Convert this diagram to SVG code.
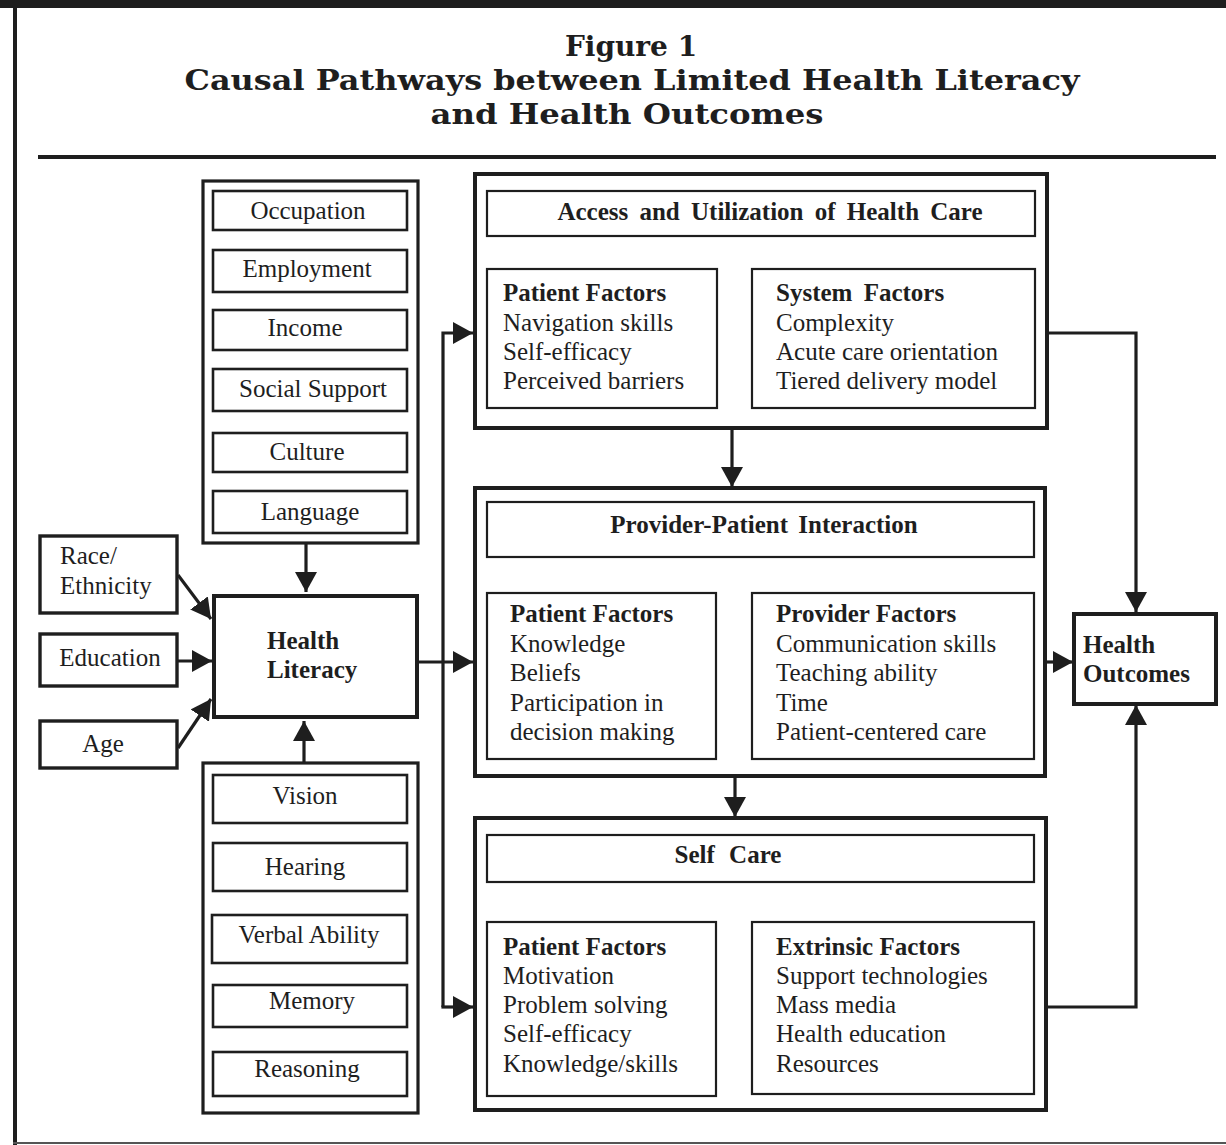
<svg xmlns="http://www.w3.org/2000/svg" width="1226" height="1145" viewBox="0 0 1226 1145">
<defs>
<marker id="ah" markerUnits="userSpaceOnUse" markerWidth="22" markerHeight="24" refX="20" refY="11" orient="auto">
<path d="M0,0 L20,11 L0,22 z" fill="#1e1e1e"/>
</marker>
<style>
.ob{fill:#fff;stroke:#1e1e1e;stroke-width:4}
.ib{fill:#fff;stroke:#1e1e1e;stroke-width:2.6}
.tb{fill:#fff;stroke:#1e1e1e;stroke-width:2.2}
.c{fill:none;stroke:#1e1e1e;stroke-width:3.2}
.t{font-family:"Liberation Serif","Times New Roman",serif;font-size:25px;fill:#1e1e1e}
.m{text-anchor:middle}
.b{font-weight:bold}
.h{font-family:"DejaVu Serif","Liberation Serif",serif;font-weight:bold;font-size:28px;fill:#1e1e1e;text-anchor:middle}
</style>
</defs>
<rect width="1226" height="1145" fill="#fff"/>
<g id="frame">
<rect x="0" y="0" width="1226" height="8" fill="#1e1e1e"/>
<rect x="13" y="0" width="4" height="1145" fill="#1e1e1e"/>
<line x1="13" y1="1143" x2="1226" y2="1143" stroke="#555" stroke-width="2"/>
<line x1="38" y1="157" x2="1216" y2="157" stroke="#1e1e1e" stroke-width="4"/>
</g>
<g id="title">
<text class="h" x="631" y="56">Figure 1</text>
<text class="h" x="632" y="90" textLength="895" lengthAdjust="spacingAndGlyphs">Causal Pathways between Limited Health Literacy</text>
<text class="h" x="627" y="124" textLength="393" lengthAdjust="spacingAndGlyphs">and Health Outcomes</text>
</g>
<g id="connectors">
<line class="c" x1="306" y1="543" x2="306" y2="592" marker-end="url(#ah)"/>
<line class="c" x1="304" y1="763" x2="304" y2="721" marker-end="url(#ah)"/>
<line class="c" x1="178" y1="575" x2="211" y2="619" marker-end="url(#ah)"/>
<line class="c" x1="177" y1="661" x2="212" y2="661" marker-end="url(#ah)"/>
<line class="c" x1="178" y1="748" x2="211" y2="699" marker-end="url(#ah)"/>
<line class="c" x1="418" y1="662" x2="473" y2="662" marker-end="url(#ah)"/>
<polyline class="c" points="443,1007 443,333 473,333" marker-end="url(#ah)"/>
<line class="c" x1="441.4" y1="1007" x2="473" y2="1007" marker-end="url(#ah)"/>
<line class="c" x1="732" y1="428" x2="732" y2="487" marker-end="url(#ah)"/>
<line class="c" x1="735" y1="776" x2="735" y2="817" marker-end="url(#ah)"/>
<line class="c" x1="1045" y1="662" x2="1073" y2="662" marker-end="url(#ah)"/>
<polyline class="c" points="1047,333 1136,333 1136,612" marker-end="url(#ah)"/>
<polyline class="c" points="1046,1007 1136,1007 1136,705" marker-end="url(#ah)"/>
</g>
<g id="social-factors">
<rect class="ob" x="203" y="181" width="215" height="362" style="stroke-width:3.2"/>
<g id="occupation"><rect class="ib" x="213" y="191" width="194" height="39"/><text class="t m" x="308" y="219">Occupation</text></g>
<g id="employment"><rect class="ib" x="213" y="250" width="194" height="42"/><text class="t m" x="307" y="277">Employment</text></g>
<g id="income"><rect class="ib" x="213" y="310" width="194" height="40"/><text class="t m" x="305" y="336">Income</text></g>
<g id="social-support"><rect class="ib" x="213" y="369" width="194" height="42"/><text class="t m" x="313" y="397">Social Support</text></g>
<g id="culture"><rect class="ib" x="213" y="433" width="194" height="39"/><text class="t m" x="307" y="460">Culture</text></g>
<g id="language"><rect class="ib" x="213" y="491" width="194" height="42"/><text class="t m" x="310" y="520">Language</text></g>
</g>
<g id="race-ethnicity"><rect class="ob" x="40" y="536" width="137" height="77" style="stroke-width:3.4"/><text class="t" x="60" y="564">Race/</text><text class="t" x="60" y="594">Ethnicity</text></g>
<g id="education"><rect class="ob" x="40" y="634" width="137" height="52" style="stroke-width:3.4"/><text class="t m" x="110" y="666">Education</text></g>
<g id="age"><rect class="ob" x="40" y="721" width="137" height="47" style="stroke-width:3.4"/><text class="t m" x="103" y="752">Age</text></g>
<g id="health-literacy"><rect class="ob" x="214" y="596" width="203" height="121"/><text class="t b" x="267" y="649">Health</text><text class="t b" x="267" y="678">Literacy</text></g>
<g id="individual-factors">
<rect class="ob" x="203" y="763" width="215" height="350" style="stroke-width:3.2"/>
<g id="vision"><rect class="ib" x="213" y="775" width="194" height="48"/><text class="t m" x="305" y="804">Vision</text></g>
<g id="hearing"><rect class="ib" x="213" y="843" width="194" height="48"/><text class="t m" x="305" y="875">Hearing</text></g>
<g id="verbal-ability"><rect class="ib" x="212" y="915" width="195" height="48"/><text class="t m" x="309" y="943">Verbal Ability</text></g>
<g id="memory"><rect class="ib" x="213" y="985" width="194" height="42"/><text class="t m" x="312" y="1009">Memory</text></g>
<g id="reasoning"><rect class="ib" x="213" y="1052" width="194" height="44"/><text class="t m" x="307" y="1077">Reasoning</text></g>
</g>
<g id="access">
<rect class="ob" x="475" y="174" width="572" height="254"/>
<rect class="tb" x="487" y="191" width="548" height="45"/>
<text class="t b m" x="770" y="220" style="word-spacing:5px">Access and Utilization of Health Care</text>
<g id="access-patient"><rect class="tb" x="487" y="269" width="230" height="139"/>
<text class="t b" x="503" y="301">Patient Factors</text><text class="t" x="503" y="331">Navigation skills</text><text class="t" x="503" y="360">Self-efficacy</text><text class="t" x="503" y="389">Perceived barriers</text></g>
<g id="access-system"><rect class="tb" x="752" y="269" width="283" height="139"/>
<text class="t b" x="776" y="301" style="word-spacing:5px">System Factors</text><text class="t" x="776" y="331">Complexity</text><text class="t" x="776" y="360">Acute care orientation</text><text class="t" x="776" y="389">Tiered delivery model</text></g>
</g>
<g id="provider-patient">
<rect class="ob" x="475" y="488" width="570" height="288"/>
<rect class="tb" x="487" y="502" width="547" height="55"/>
<text class="t b m" x="764" y="533" style="word-spacing:4px">Provider-Patient Interaction</text>
<g id="pp-patient"><rect class="tb" x="487" y="593" width="229" height="166"/>
<text class="t b" x="510" y="622">Patient Factors</text><text class="t" x="510" y="652">Knowledge</text><text class="t" x="510" y="681">Beliefs</text><text class="t" x="510" y="711">Participation in</text><text class="t" x="510" y="740">decision making</text></g>
<g id="pp-provider"><rect class="tb" x="752" y="593" width="282" height="166"/>
<text class="t b" x="776" y="622">Provider Factors</text><text class="t" x="776" y="652">Communication skills</text><text class="t" x="776" y="681">Teaching ability</text><text class="t" x="776" y="711">Time</text><text class="t" x="776" y="740">Patient-centered care</text></g>
</g>
<g id="self-care">
<rect class="ob" x="475" y="818" width="571" height="292"/>
<rect class="tb" x="487" y="835" width="547" height="47"/>
<text class="t b m" x="728" y="863" style="word-spacing:8px">Self Care</text>
<g id="sc-patient"><rect class="tb" x="487" y="922" width="229" height="174"/>
<text class="t b" x="503" y="955">Patient Factors</text><text class="t" x="503" y="984">Motivation</text><text class="t" x="503" y="1013">Problem solving</text><text class="t" x="503" y="1042">Self-efficacy</text><text class="t" x="503" y="1072">Knowledge/skills</text></g>
<g id="sc-extrinsic"><rect class="tb" x="752" y="922" width="282" height="172"/>
<text class="t b" x="776" y="955">Extrinsic Factors</text><text class="t" x="776" y="984">Support technologies</text><text class="t" x="776" y="1013">Mass media</text><text class="t" x="776" y="1042">Health education</text><text class="t" x="776" y="1072">Resources</text></g>
</g>
<g id="health-outcomes"><rect class="ob" x="1074" y="614" width="142" height="90"/><text class="t b" x="1083" y="653">Health</text><text class="t b" x="1083" y="682">Outcomes</text></g>
</svg>
